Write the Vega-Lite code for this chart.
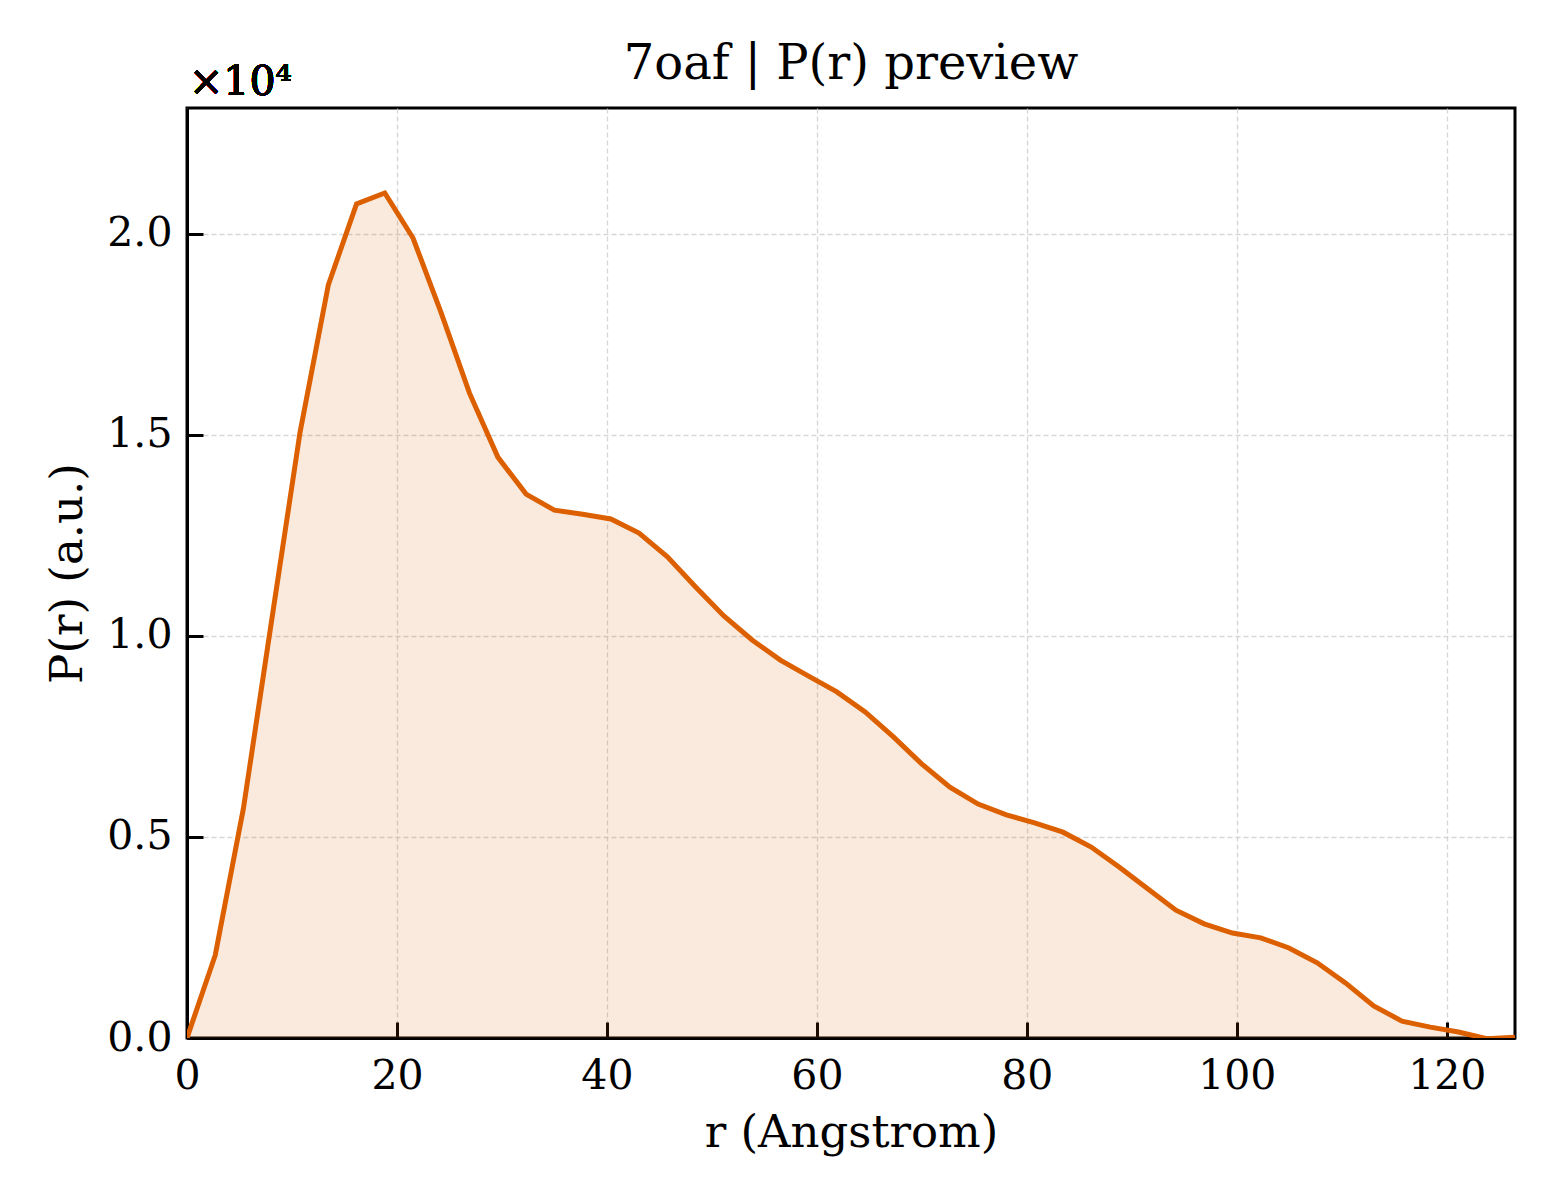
{
  "$schema": "https://vega.github.io/schema/vega-lite/v6.json",
  "autosize": {"type": "none"},
  "padding": {"left": 187, "top": 108, "right": 45, "bottom": 162},
  "width": 1328,
  "height": 930,
  "background": "white",
  "title": {
    "text": "7oaf | P(r) preview",
    "font": "DejaVu Serif",
    "fontSize": 48,
    "fontWeight": "normal",
    "color": "black",
    "anchor": "middle",
    "frame": "group",
    "baseline": "bottom",
    "offset": 17,
    "dy": 92
  },
  "data": {
    "values": [
      {"r": 0, "p": 0},
      {"r": 2.69, "p": 2060},
      {"r": 5.38, "p": 5720},
      {"r": 8.07, "p": 10400},
      {"r": 10.77, "p": 15070},
      {"r": 13.46, "p": 18730},
      {"r": 16.15, "p": 20750},
      {"r": 18.84, "p": 21020},
      {"r": 21.53, "p": 19900},
      {"r": 24.22, "p": 18030},
      {"r": 26.91, "p": 16040},
      {"r": 29.61, "p": 14450},
      {"r": 32.30, "p": 13530},
      {"r": 34.99, "p": 13130},
      {"r": 37.68, "p": 13030},
      {"r": 40.37, "p": 12910},
      {"r": 43.06, "p": 12560},
      {"r": 45.76, "p": 11970},
      {"r": 48.45, "p": 11220},
      {"r": 51.14, "p": 10500},
      {"r": 53.83, "p": 9900},
      {"r": 56.52, "p": 9400},
      {"r": 59.21, "p": 9000},
      {"r": 61.90, "p": 8610},
      {"r": 64.60, "p": 8110},
      {"r": 67.29, "p": 7490},
      {"r": 69.98, "p": 6820},
      {"r": 72.67, "p": 6240},
      {"r": 75.36, "p": 5820},
      {"r": 78.05, "p": 5550},
      {"r": 80.74, "p": 5350},
      {"r": 83.44, "p": 5120},
      {"r": 86.13, "p": 4750},
      {"r": 88.82, "p": 4250},
      {"r": 91.51, "p": 3710},
      {"r": 94.20, "p": 3180},
      {"r": 96.89, "p": 2840},
      {"r": 99.59, "p": 2610},
      {"r": 102.28, "p": 2490},
      {"r": 104.97, "p": 2240},
      {"r": 107.66, "p": 1870},
      {"r": 110.35, "p": 1370},
      {"r": 113.04, "p": 800},
      {"r": 115.73, "p": 420},
      {"r": 118.43, "p": 270},
      {"r": 121.12, "p": 150},
      {"r": 123.81, "p": -20},
      {"r": 126.50, "p": 20}
    ]
  },
  "encoding": {
    "x": {
      "field": "r",
      "type": "quantitative",
      "title": "r (Angstrom)",
      "scale": {"domain": [0, 126.5], "nice": false, "zero": false},
      "axis": {
        "values": [0, 20, 40, 60, 80, 100, 120],
        "ticks": true,
        "tickSize": -16,
        "tickWidth": 3,
        "tickColor": "black",
        "labelPadding": 34,
        "titlePadding": 14
      }
    },
    "y": {
      "field": "p",
      "type": "quantitative",
      "title": "P(r) (a.u.)",
      "scale": {"domain": [0, 23134], "nice": false},
      "axis": {
        "values": [0, 5000, 10000, 15000, 20000],
        "labelExpr": "format(datum.value / 10000, '.1f')",
        "ticks": true,
        "tickSize": -16,
        "tickWidth": 3,
        "tickColor": "black",
        "labelPadding": 31,
        "titlePadding": 16
      }
    }
  },
  "layer": [
    {
      "mark": {"type": "area", "color": "#dc6000", "opacity": 0.13, "clip": true}
    },
    {
      "mark": {"type": "line", "color": "#dc6000", "strokeWidth": 5, "clip": true}
    },
    {
      "mark": {
        "type": "text",
        "text": "×10⁴",
        "font": "DejaVu Serif",
        "fontSize": 41,
        "align": "left",
        "baseline": "alphabetic",
        "dx": 2,
        "dy": -13,
        "color": "black"
      },
      "encoding": {
        "x": {"datum": 0},
        "y": {"datum": 23134}
      }
    }
  ],
  "config": {
    "view": {"stroke": "black", "strokeWidth": 3},
    "axis": {
      "labelFont": "DejaVu Serif",
      "labelFontSize": 41,
      "labelColor": "black",
      "titleFont": "DejaVu Serif",
      "titleFontSize": 45,
      "titleFontWeight": "normal",
      "titleColor": "black",
      "domainColor": "black",
      "domainWidth": 3,
      "zindex": 1,
      "grid": true,
      "gridColor": "#cccccc",
      "gridDash": [5, 3],
      "gridWidth": 1.3,
      "gridOpacity": 0.8,
      "labelFlush": false,
      "labelOverlap": false
    }
  }
}
